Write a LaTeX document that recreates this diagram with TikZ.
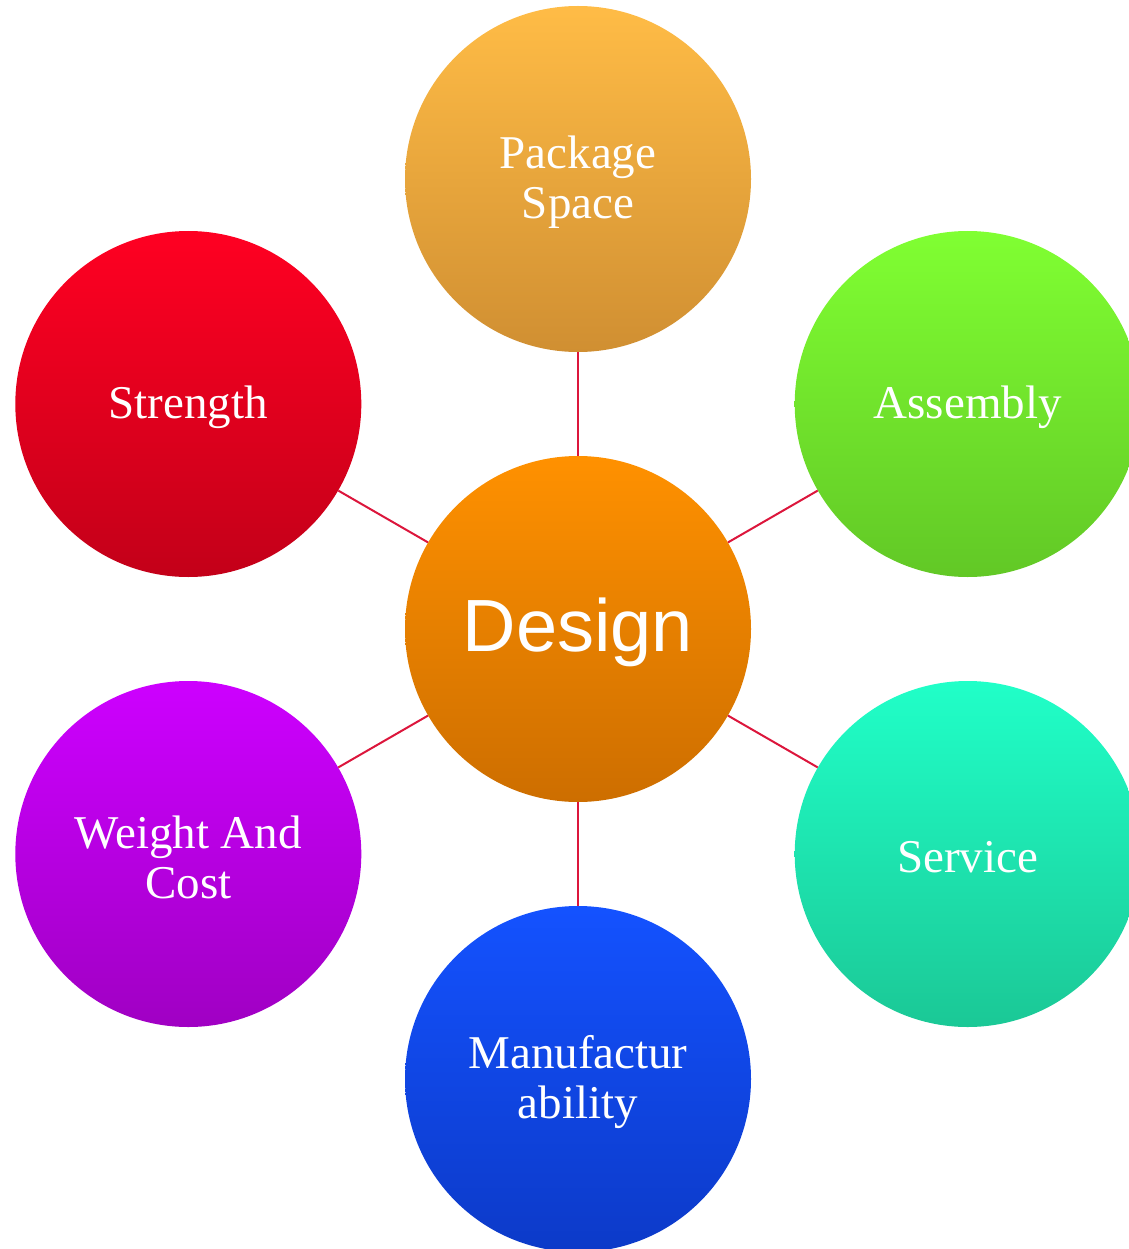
\documentclass[tikz,border=0pt]{standalone}
\usepackage{fontspec}
\setmainfont{Liberation Serif}
\newfontfamily\headfont{Liberation Sans}
\definecolor{linkred}{RGB}{220,22,60}
\definecolor{pkgT}{RGB}{255,188,70}   \definecolor{pkgB}{RGB}{208,143,50}
\definecolor{desT}{RGB}{255,145,0}    \definecolor{desB}{RGB}{205,110,0}
\definecolor{strT}{RGB}{255,0,34}     \definecolor{strB}{RGB}{195,0,25}
\definecolor{assT}{RGB}{128,255,50}   \definecolor{assB}{RGB}{98,200,38}
\definecolor{serT}{RGB}{32,255,200}   \definecolor{serB}{RGB}{27,200,150}
\definecolor{wgtT}{RGB}{205,0,255}    \definecolor{wgtB}{RGB}{160,0,195}
\definecolor{manT}{RGB}{20,82,255}    \definecolor{manB}{RGB}{12,58,200}
\begin{document}
\begin{tikzpicture}[x=1pt,y=-1pt,
  bubble/.style={circle,minimum size=346pt,inner sep=0pt,shade},
  caption/.style={text=white,align=center,inner sep=0pt,
    font=\fontsize{47}{50}\selectfont},
  link/.style={draw=linkred,line width=2pt}]
\useasboundingbox (0,0) rectangle (1128,1249);
% topics around the hub
\node[bubble,top color=pkgT,bottom color=pkgB] (pkg) at (578,179) {};
\node[bubble,top color=strT,bottom color=strB] (str) at (188.3,404) {};
\node[bubble,top color=assT,bottom color=assB] (ass) at (967.7,404) {};
\node[bubble,top color=wgtT,bottom color=wgtB] (wgt) at (188.3,854) {};
\node[bubble,top color=serT,bottom color=serB] (ser) at (967.7,854) {};
\node[bubble,top color=manT,bottom color=manB] (man) at (578,1079) {};
% hub
\node[bubble,top color=desT,bottom color=desB] (des) at (578,629) {};
% spokes
\foreach \t in {pkg,str,ass,wgt,ser,man}
  \draw[link] (des) -- (\t);
% captions
\node[caption] (pkg-t) at ([yshift=-3pt]pkg.center) {Package\\Space};
\node[caption] (str-t) at ([yshift=-3pt]str.center) {Strength};
\node[caption] (ass-t) at ([yshift=-3pt]ass.center) {Assembly};
\node[caption] (wgt-t) at ([yshift=-3pt]wgt.center) {Weight And\\Cost};
\node[caption] (ser-t) at ([yshift=-3pt]ser.center) {Service};
\node[caption] (man-t) at ([yshift=-3pt]man.center) {Manufactur\\ability};
\node[caption,font=\headfont\fontsize{74}{80}\selectfont] (des-t) at ([yshift=-3pt]des.center) {Design};
\end{tikzpicture}
\end{document}
